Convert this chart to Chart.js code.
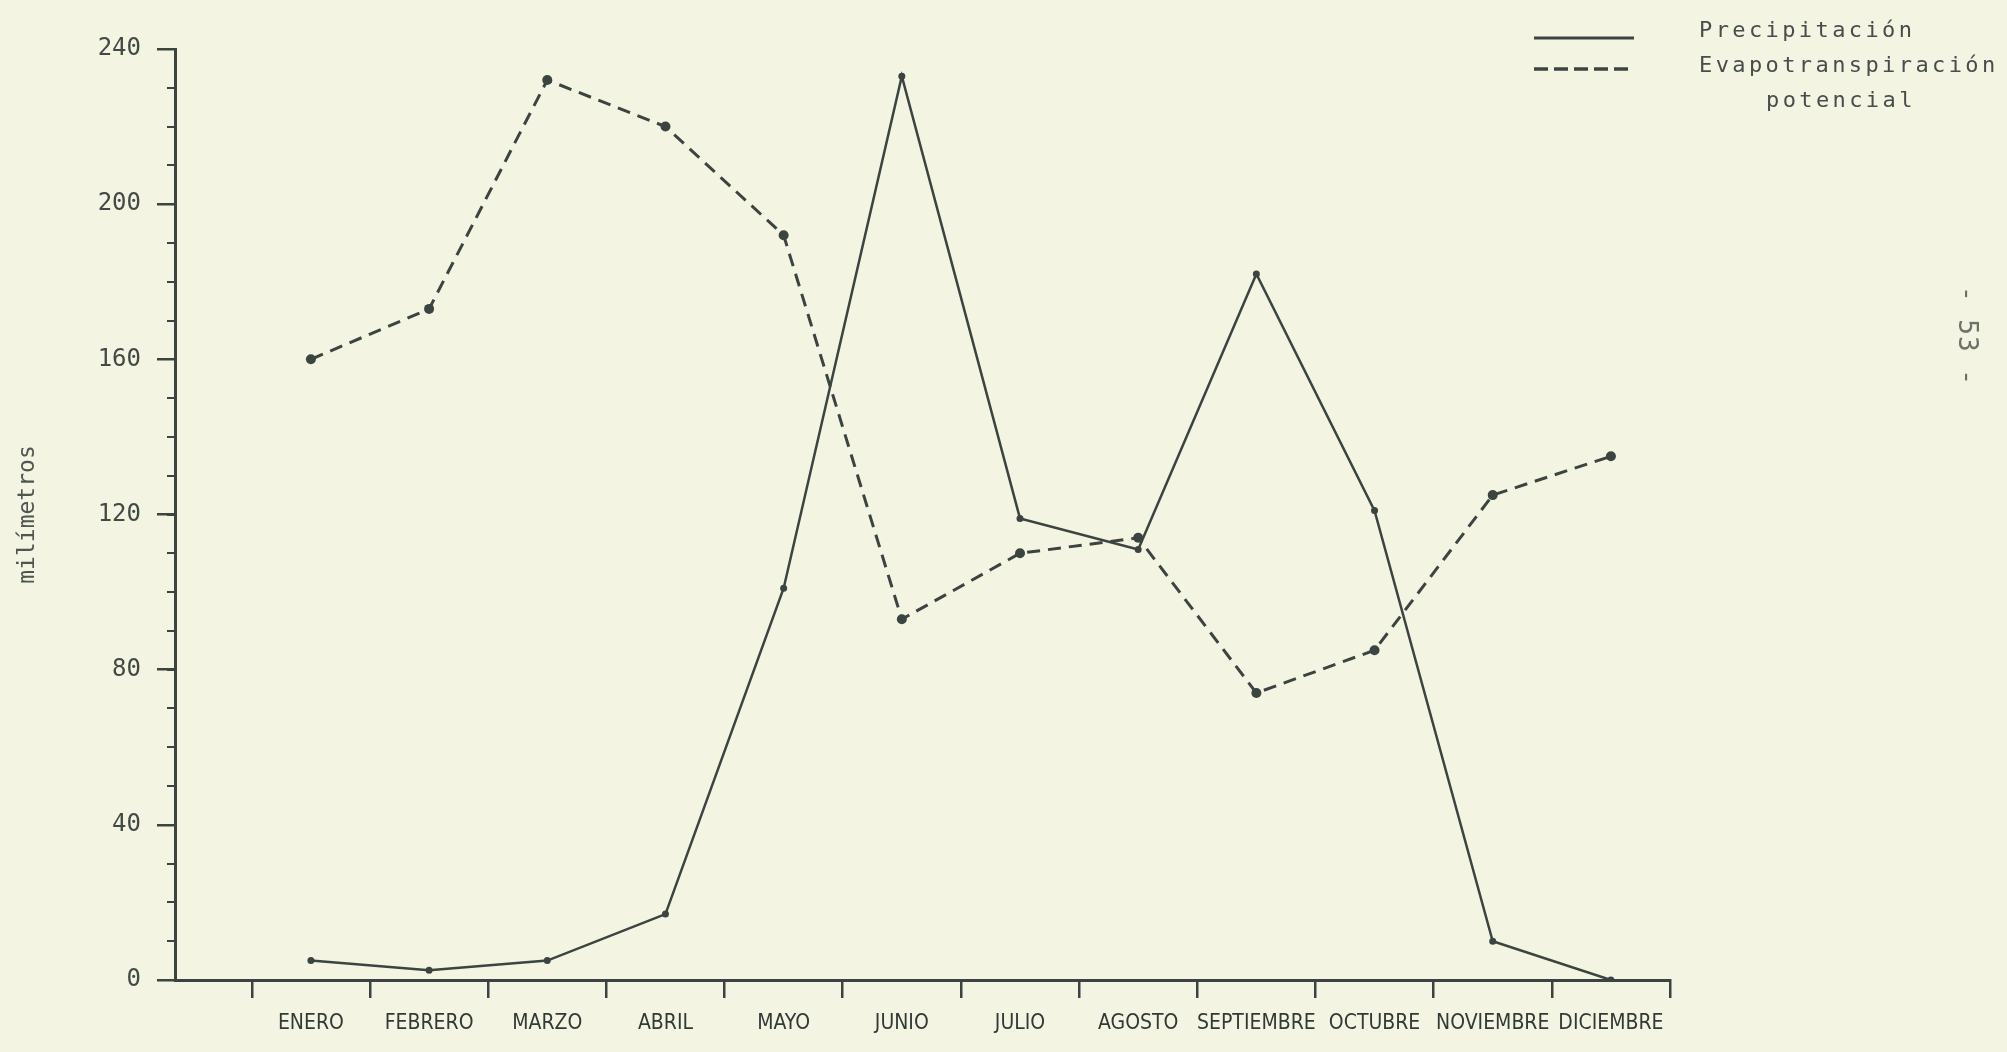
<!DOCTYPE html>
<html>
<head>
<meta charset="utf-8">
<script src="https://cdn.jsdelivr.net/npm/chart.js@4"></script>
<style>
  body { margin: 0; background: #f3f4e2; }
  #wrap { position: relative; width: 2007px; height: 1052px; overflow: hidden; }
  #grafica { position: absolute; left: 0; top: 0; }
  .leyenda { position: absolute; font-family: "DejaVu Sans Mono", monospace; font-size: 22px;
             letter-spacing: 3.4px; color: #474d4a; line-height: 26px; white-space: nowrap; }
  .muestra { position: absolute; left: 1532px; }
  #pagina { position: absolute; left: 1968px; top: 336px; transform: translate(-50%, -50%) rotate(90deg);
            font-family: "DejaVu Sans Mono", monospace; font-size: 26px; letter-spacing: 1px; color: #6b7068; white-space: nowrap; }
</style>
</head>
<body>
<div id="wrap">
  <canvas id="grafica" width="2007" height="1052"></canvas>

  <svg class="muestra" style="top:30px" width="104" height="16"><line x1="2" y1="8" x2="102" y2="8" stroke="#3b4440" stroke-width="3"/></svg>
  <svg class="muestra" style="top:61px" width="104" height="16"><line x1="2" y1="8" x2="102" y2="8" stroke="#3b4440" stroke-width="3.5" stroke-dasharray="14 6"/></svg>
  <div class="leyenda" style="left:1699px; top:17px">Precipitación</div>
  <div class="leyenda" style="left:1699px; top:52px">Evapotranspiración</div>
  <div class="leyenda" style="left:1766px; top:87px">potencial</div>

  <div id="pagina">- 53 -</div>
</div>

<script>
// meses y valores (mm)
var meses = ['ENERO', 'FEBRERO', 'MARZO', 'ABRIL', 'MAYO', 'JUNIO', 'JULIO', 'AGOSTO', 'SEPTIEMBRE', 'OCTUBRE', 'NOVIEMBRE', 'DICIEMBRE'];
var precipitacion = [5, 2.5, 5, 17, 101, 233, 119, 111, 182, 121, 10, 0];
var evapotranspiracion = [160, 173, 232, 220, 192, 93, 110, 114, 74, 85, 125, 135];
var marcas_y = [0, 40, 80, 120, 160, 200, 240];

var tinta = '#3b4440';

function puntos(valores) {
    var out = [];
    for (var i = 0; i < valores.length; i++) {
        out.push({x: i, y: valores[i]});
    }
    return out;
}

var ctx = document.getElementById('grafica').getContext('2d');

var grafica = new Chart(ctx, {
    type: 'line',
    data: {
        datasets: [
            {
                label: 'Precipitación',
                data: puntos(precipitacion),
                borderColor: tinta,
                backgroundColor: tinta,
                borderWidth: 2.5,
                pointRadius: 3.5,
                pointBorderWidth: 0,
                tension: 0
            },
            {
                label: 'Evapotranspiración potencial',
                data: puntos(evapotranspiracion),
                borderColor: tinta,
                backgroundColor: tinta,
                borderWidth: 3,
                borderDash: [13, 8],
                pointRadius: 5,
                pointBorderWidth: 0,
                tension: 0
            }
        ]
    },
    options: {
        responsive: false,
        animation: false,
        devicePixelRatio: 1,
        layout: { padding: { top: 49, right: 337, left: 0, bottom: 0 } },
        plugins: {
            legend: { display: false },
            tooltip: { enabled: false }
        },
        scales: {
            x: {
                type: 'linear',
                min: -1.15,
                max: 11.5,
                afterBuildTicks: function (scale) {
                    // limites de cada mes (marcas) y centros (etiquetas)
                    var t = [];
                    for (var v = -0.5; v <= meses.length - 0.5; v += 0.5) t.push({value: v});
                    scale.ticks = t;
                },
                afterFit: function (scale) { scale.height = 72; },
                ticks: {
                    autoSkip: false,
                    maxRotation: 0,
                    minRotation: 0,
                    padding: 13,
                    color: '#323a36',
                    font: { family: "'Liberation Sans Narrow', 'DejaVu Sans Condensed', 'Liberation Sans', sans-serif", size: 21 },
                    callback: function (value) {
                        return Number.isInteger(value) ? meses[value] : '';
                    }
                },
                grid: {
                    drawOnChartArea: false,
                    drawTicks: true,
                    tickLength: 18,
                    lineWidth: 2.5,
                    color: function (c) {
                        if (c.tick && Number.isInteger(c.tick.value)) return 'rgba(0,0,0,0)';
                        return tinta;
                    }
                },
                border: { color: tinta, width: 3 }
            },
            y: {
                min: 0,
                max: 240,
                afterBuildTicks: function (scale) {
                    scale.ticks = marcas_y.map(function (v) { return {value: v}; });
                },
                afterFit: function (scale) { scale.width = 175; },
                ticks: {
                    autoSkip: false,
                    padding: 16,
                    color: '#434a46',
                    font: { family: "'DejaVu Sans Mono', monospace", size: 24 }
                },
                grid: {
                    drawOnChartArea: false,
                    drawTicks: true,
                    tickLength: 18,
                    lineWidth: 2.5,
                    color: tinta
                },
                border: { color: tinta, width: 3 },
                title: {
                    display: true,
                    text: 'milímetros',
                    color: '#4f5652',
                    font: { family: "'DejaVu Sans Mono', monospace", size: 23 },
                    padding: { top: 14, bottom: 0 }
                }
            },
            // marcas menores cada 10 mm
            y2: {
                axis: 'y',
                position: { x: -1.15 },
                min: 0,
                max: 240,
                ticks: { stepSize: 10, display: false },
                grid: {
                    drawOnChartArea: false,
                    drawTicks: true,
                    tickLength: 8,
                    lineWidth: 2,
                    color: tinta
                },
                border: { display: false }
            }
        }
    }
});
</script>
</body>
</html>
